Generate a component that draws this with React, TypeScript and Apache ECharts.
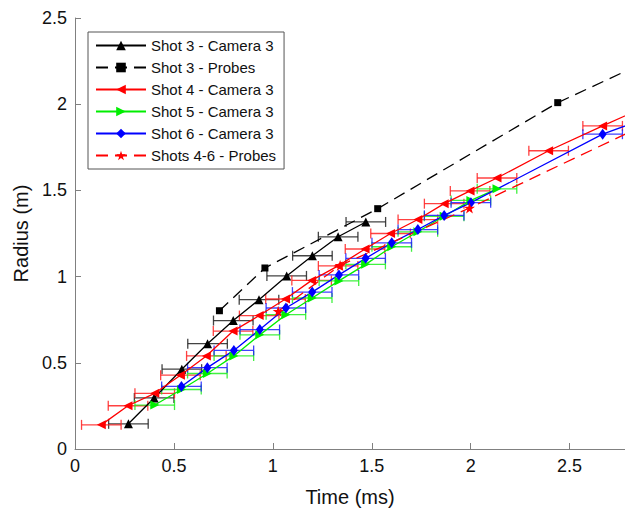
import React, { useEffect, useRef } from "react";
import * as echarts from "echarts";

// ---- Data (Time in ms, Radius in m) ----
const shot3CamTime = [0.27, 0.40, 0.54, 0.67, 0.80, 0.93, 1.07, 1.20, 1.33, 1.47];
const shot3CamRadius = [0.146, 0.296, 0.463, 0.611, 0.745, 0.866, 1.004, 1.121, 1.231, 1.317];
const shot3CamErr = [0.1, 0.1, 0.1, 0.1, 0.1, 0.1, 0.1, 0.1, 0.1, 0.1];

const shot3ProbeTime = [0.73, 0.96, 1.53, 2.44, 2.93];
const shot3ProbeRadius = [0.802, 1.05, 1.394, 2.009, 2.27];

const shot4CamTime = [0.133, 0.268, 0.403, 0.533, 0.664, 0.799, 0.931, 1.064, 1.196, 1.33, 1.466, 1.595, 1.733, 1.866, 1.997, 2.133, 2.394, 2.667, 2.93];
const shot4CamRadius = [0.14, 0.251, 0.323, 0.428, 0.54, 0.684, 0.774, 0.87, 0.978, 1.062, 1.16, 1.25, 1.331, 1.423, 1.497, 1.572, 1.73, 1.874, 2.01];
const shot4CamErr = [0.1, 0.1, 0.1, 0.1, 0.1, 0.1, 0.1, 0.1, 0.1, 0.1, 0.1, 0.1, 0.1, 0.1, 0.1, 0.1, 0.1, 0.1, 0.1];

const shot5CamTime = [0.403, 0.538, 0.669, 0.803, 0.934, 1.066, 1.199, 1.334, 1.469, 1.601, 1.733, 1.866, 2.001, 2.133];
const shot5CamRadius = [0.255, 0.345, 0.438, 0.54, 0.662, 0.779, 0.876, 0.975, 1.071, 1.173, 1.26, 1.35, 1.442, 1.509];
const shot5CamErr = [0.1, 0.1, 0.1, 0.1, 0.1, 0.1, 0.1, 0.1, 0.1, 0.1, 0.1, 0.1, 0.1, 0.1];

const shot6CamTime = [0.538, 0.669, 0.803, 0.934, 1.066, 1.199, 1.334, 1.469, 1.601, 1.733, 1.866, 2.001, 2.667, 2.93];
const shot6CamRadius = [0.363, 0.472, 0.572, 0.693, 0.818, 0.91, 1.01, 1.106, 1.196, 1.273, 1.355, 1.429, 1.826, 1.936];
const shot6CamErr = [0.1, 0.1, 0.1, 0.1, 0.1, 0.1, 0.1, 0.1, 0.1, 0.1, 0.1, 0.1, 0.1, 0.1];

const shots46ProbeTime = [1.027, 1.34, 1.994, 2.93];
const shots46ProbeRadius = [0.799, 1.065, 1.398, 1.907];

const xTicks = [0, 0.5, 1, 1.5, 2, 2.5];

const seriesNames = [
  "Shot 3 - Camera 3",
  "Shot 3 - Probes",
  "Shot 4 - Camera 3",
  "Shot 5 - Camera 3",
  "Shot 6 - Camera 3",
  "Shots 4-6 - Probes",
];

// symbol shapes
const LEFT_TRI = "path://M10,0L10,10L0,5Z";
const RIGHT_TRI = "path://M0,0L10,5L0,10Z";
const STAR =
  "path://M10,0L12.245,6.91L19.511,6.91L13.633,11.18L15.878,18.09L10,13.82L4.122,18.09L6.367,11.18L0.489,6.91L7.755,6.91Z";

const FONT = "'Liberation Sans', Arial, Helvetica, sans-serif";

function zip(xs: number[], ys: number[], es?: number[]) {
  return xs.map((x, i) => (es ? [x, ys[i], es[i]] : [x, ys[i]]));
}

function errorSeries(name: string, xs: number[], ys: number[], es: number[], color: string) {
  return {
    type: "custom",
    name: name + " err",
    data: zip(xs, ys, es),
    encode: { x: 0, y: 1 },
    clip: true,
    z: 1,
    renderItem: (params: any, api: any) => {
      const x = api.value(0);
      const y = api.value(1);
      const e = api.value(2);
      const p1 = api.coord([x - e, y]);
      const p2 = api.coord([x + e, y]);
      const h = 5;
      const style = { stroke: color, lineWidth: 1.3, opacity: 0.85 };
      return {
        type: "group",
        children: [
          { type: "line", shape: { x1: p1[0], y1: p1[1], x2: p2[0], y2: p2[1] }, style },
          { type: "line", shape: { x1: p1[0], y1: p1[1] - h, x2: p1[0], y2: p1[1] + h }, style },
          { type: "line", shape: { x1: p2[0], y1: p2[1] - h, x2: p2[0], y2: p2[1] + h }, style },
        ],
      };
    },
  };
}

function lineSeries(
  name: string,
  xs: number[],
  ys: number[],
  color: string,
  symbol: string,
  symbolSize: any,
  dashed: boolean
) {
  return {
    type: "line",
    name,
    data: zip(xs, ys),
    symbol,
    symbolSize,
    showAllSymbol: true,
    clip: true,
    z: 3,
    lineStyle: { color, width: 1.3, type: dashed ? [12, 7] : "solid" },
    itemStyle: { color, borderWidth: 0 },
    emphasis: { disabled: true },
  };
}

export default function App() {
  const ref = useRef<HTMLDivElement>(null);

  useEffect(() => {
    if (!ref.current) return;
    const chart = echarts.init(ref.current, null, { renderer: "svg" });
    const option: any = {
      animation: false,
      backgroundColor: "#ffffff",
      textStyle: { fontFamily: FONT },
      grid: { left: 75, right: 0, top: 18, bottom: 60, containLabel: false },
      legend: {
        data: seriesNames,
        orient: "vertical",
        left: 88,
        top: 32,
        padding: [6, 8, 6, 7],
        itemWidth: 50,
        itemHeight: 12,
        itemGap: 7,
        backgroundColor: "#ffffff",
        borderColor: "#555",
        borderWidth: 1,
        borderRadius: 0,
        textStyle: { fontSize: 15, color: "#111", fontFamily: FONT },
        selectedMode: false,
      },
      xAxis: {
        type: "value",
        min: 0,
        max: 2.78,
        name: "Time (ms)",
        nameLocation: "middle",
        nameGap: 38,
        nameTextStyle: { fontSize: 20, color: "#111", fontFamily: FONT },
        axisLine: { show: true, onZero: false, lineStyle: { color: "#808080", width: 1 } },
        axisTick: { show: true, inside: true, length: 6, customValues: xTicks, lineStyle: { color: "#808080" } },
        axisLabel: { show: true, margin: 8, fontSize: 18, color: "#111", fontFamily: FONT, customValues: xTicks },
        splitLine: { show: false },
      },
      yAxis: {
        type: "value",
        min: 0,
        max: 2.5,
        interval: 0.5,
        name: "Radius (m)",
        nameLocation: "middle",
        nameGap: 44,
        nameTextStyle: { fontSize: 20, color: "#111", fontFamily: FONT },
        axisLine: { show: true, onZero: false, lineStyle: { color: "#808080", width: 1 } },
        axisTick: { show: true, inside: true, length: 6, lineStyle: { color: "#808080" } },
        axisLabel: { show: true, margin: 8, fontSize: 18, color: "#111", fontFamily: FONT },
        splitLine: { show: false },
      },
      series: [
        errorSeries(seriesNames[0], shot3CamTime, shot3CamRadius, shot3CamErr, "#222222"),
        errorSeries(seriesNames[2], shot4CamTime, shot4CamRadius, shot4CamErr, "#ff2020"),
        errorSeries(seriesNames[3], shot5CamTime, shot5CamRadius, shot5CamErr, "#20ee20"),
        errorSeries(seriesNames[4], shot6CamTime, shot6CamRadius, shot6CamErr, "#2020ff"),
        lineSeries(seriesNames[0], shot3CamTime, shot3CamRadius, "#000000", "triangle", 9, false),
        lineSeries(seriesNames[1], shot3ProbeTime, shot3ProbeRadius, "#000000", "rect", 7, true),
        lineSeries(seriesNames[2], shot4CamTime, shot4CamRadius, "#ff0000", LEFT_TRI, 9, false),
        lineSeries(seriesNames[3], shot5CamTime, shot5CamRadius, "#00ee00", RIGHT_TRI, 9, false),
        lineSeries(seriesNames[4], shot6CamTime, shot6CamRadius, "#0000ff", "diamond", [8, 11], false),
        lineSeries(seriesNames[5], shots46ProbeTime, shots46ProbeRadius, "#ff0000", STAR, 11, true),
      ],
    };
    chart.setOption(option);
    return () => chart.dispose();
  }, []);

  return (
    <div
      ref={ref}
      style={{ position: "absolute", left: 0, top: 0, width: 625, height: 512 }}
    />
  );
}
